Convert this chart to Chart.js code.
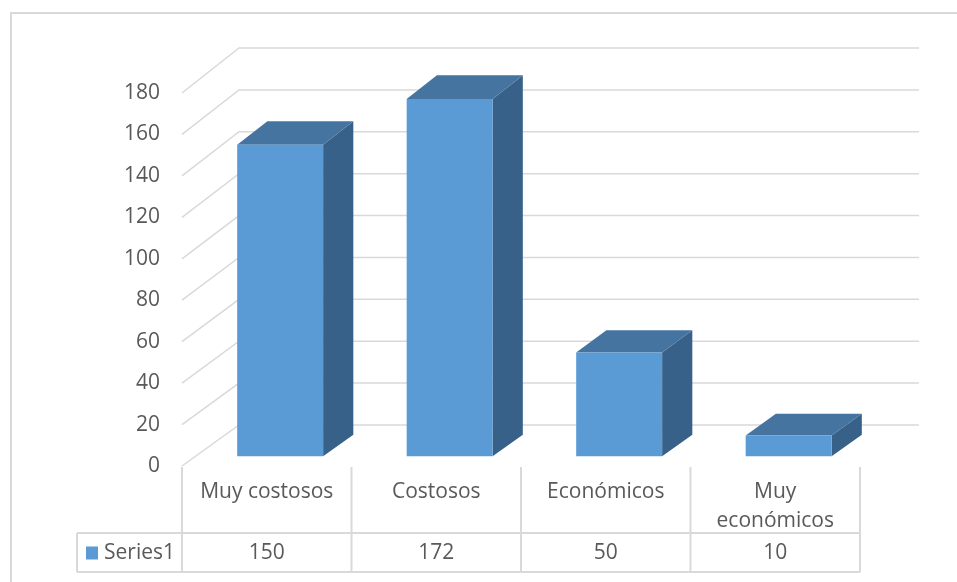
<!DOCTYPE html>
<html>
<head>
<meta charset="utf-8">
<script src="https://cdn.jsdelivr.net/npm/chart.js@4.4.1/dist/chart.umd.min.js"></script>
<style>
  body { margin: 0; background: #fff; }
  #wrap { width: 957px; height: 582px; }
</style>
</head>
<body>
<div id="wrap"><canvas id="grafico"></canvas></div>
<script>
// datos del grafico
const categorias = ['Muy costosos', 'Costosos', 'Económicos', ['Muy', 'económicos']];
const serieNombre = 'Series1';
const serieValores = [150, 172, 50, 10];
const ejeMax = 180;
const ejePaso = 20;

const colorTexto = '#595959';
const colorGrid = '#d9d9d9';
const colorFrente = '#5b9bd5';
const colorTapa = '#4574a0';
const colorLado = '#386189';
const fuente = "'Open Sans', sans-serif";

// profundidad del efecto 3D
const PROF_X = 57;
const FRENTE = 0.235;
const FONDO = 0.765;

function punto(y, x, v, t) {
  const dy = -41 - 4 * v / ejeMax;
  return [x + t * PROF_X, y.getPixelForValue(v) + t * dy];
}

const efecto3d = {
  id: 'efecto3d',
  beforeDraw(chart) {
    const ctx = chart.ctx;
    ctx.save();
    ctx.strokeStyle = colorGrid;
    ctx.lineWidth = 2;
    ctx.beginPath();
    ctx.moveTo(11, chart.height);
    ctx.lineTo(11, 13);
    ctx.lineTo(chart.width, 13);
    ctx.stroke();
    ctx.restore();
  },
  beforeDatasetsDraw(chart) {
    const { ctx, chartArea: a, scales: { y } } = chart;
    ctx.save();
    ctx.strokeStyle = colorGrid;
    ctx.lineWidth = 1.5;
    y.ticks.forEach((t) => {
      const yf = y.getPixelForValue(t.value);
      const [xb, yb] = punto(y, a.left, t.value, 1);
      ctx.beginPath();
      ctx.moveTo(a.left, yf);
      ctx.lineTo(xb, yb);
      ctx.lineTo(a.right + PROF_X + 2, yb);
      ctx.stroke();
    });
    ctx.restore();
  },
  afterDatasetsDraw(chart) {
    const { ctx, scales: { y } } = chart;
    const meta = chart.getDatasetMeta(0);
    ctx.save();
    meta.data.forEach((bar, i) => {
      const v = serieValores[i];
      const l = bar.x - bar.width / 2;
      const r = bar.x + bar.width / 2;
      const ftl = punto(y, l, v, FRENTE), ftr = punto(y, r, v, FRENTE);
      const fbr = punto(y, r, 0, FRENTE), fbl = punto(y, l, 0, FRENTE);
      const btl = punto(y, l, v, FONDO), btr = punto(y, r, v, FONDO);
      const bbr = punto(y, r, 0, FONDO);
      const cara = (pts, color) => {
        ctx.fillStyle = color;
        ctx.beginPath();
        ctx.moveTo(pts[0][0], pts[0][1]);
        pts.slice(1).forEach((p) => ctx.lineTo(p[0], p[1]));
        ctx.closePath();
        ctx.fill();
      };
      cara([ftr, btr, bbr, fbr], colorLado);
      cara([ftl, ftr, btr, btl], colorTapa);
      cara([ftl, ftr, fbr, fbl], colorFrente);
    });
    ctx.restore();
  },
  afterDraw(chart) {
    // tabla de datos
    const { ctx, chartArea: a, scales: { x } } = chart;
    const anchoCat = (a.right - a.left) / categorias.length;
    const filaArriba = a.bottom + 67;
    const filaAbajo = a.bottom + 106;
    const izq = 77;
    ctx.save();
    ctx.strokeStyle = colorGrid;
    ctx.lineWidth = 2;
    ctx.beginPath();
    for (let i = 0; i <= categorias.length; i++) {
      const xx = a.left + i * anchoCat;
      ctx.moveTo(xx, a.bottom + 1);
      ctx.lineTo(xx, filaAbajo);
    }
    ctx.moveTo(izq, filaArriba);
    ctx.lineTo(a.right, filaArriba);
    ctx.moveTo(izq, filaAbajo);
    ctx.lineTo(a.right, filaAbajo);
    ctx.moveTo(izq, filaArriba);
    ctx.lineTo(izq, filaAbajo);
    ctx.stroke();

    const medio = (filaArriba + filaAbajo) / 2 + 1;
    ctx.fillStyle = colorTexto;
    ctx.font = '21px ' + fuente;
    ctx.textBaseline = 'middle';
    ctx.textAlign = 'center';
    serieValores.forEach((v, i) => {
      ctx.fillText(String(v), x.getPixelForValue(i), medio);
    });
    ctx.fillStyle = colorFrente;
    ctx.fillRect(86, medio - 7, 12, 13);
    ctx.fillStyle = colorTexto;
    ctx.textAlign = 'left';
    ctx.fillText(serieNombre, 104, medio);
    ctx.restore();
  }
};

Chart.defaults.font.family = fuente;
Chart.defaults.color = colorTexto;

new Chart(document.getElementById('grafico'), {
  type: 'bar',
  data: {
    labels: categorias,
    datasets: [{
      label: serieNombre,
      data: serieValores,
      backgroundColor: 'rgba(0,0,0,0)',
      barPercentage: 0.507,
      categoryPercentage: 1
    }]
  },
  options: {
    responsive: true,
    maintainAspectRatio: false,
    animation: false,
    layout: { padding: { top: 93, right: 97, bottom: 0, left: 0 } },
    plugins: { legend: { display: false }, tooltip: { enabled: false } },
    scales: {
      x: {
        offset: true,
        grid: { display: false, drawTicks: false },
        border: { display: false },
        ticks: {
          padding: 11,
          maxRotation: 0,
          autoSkip: false,
          color: colorTexto,
          font: { size: 21, lineHeight: 1.4 }
        },
        afterFit(s) { s.height = 116; }
      },
      y: {
        min: 0,
        max: ejeMax,
        grid: { display: false, drawTicks: false },
        border: { display: false },
        ticks: {
          stepSize: ejePaso,
          padding: 22,
          color: colorTexto,
          font: { size: 21 }
        },
        afterFit(s) { s.width = 182; }
      }
    }
  },
  plugins: [efecto3d]
});
</script>
</body>
</html>
